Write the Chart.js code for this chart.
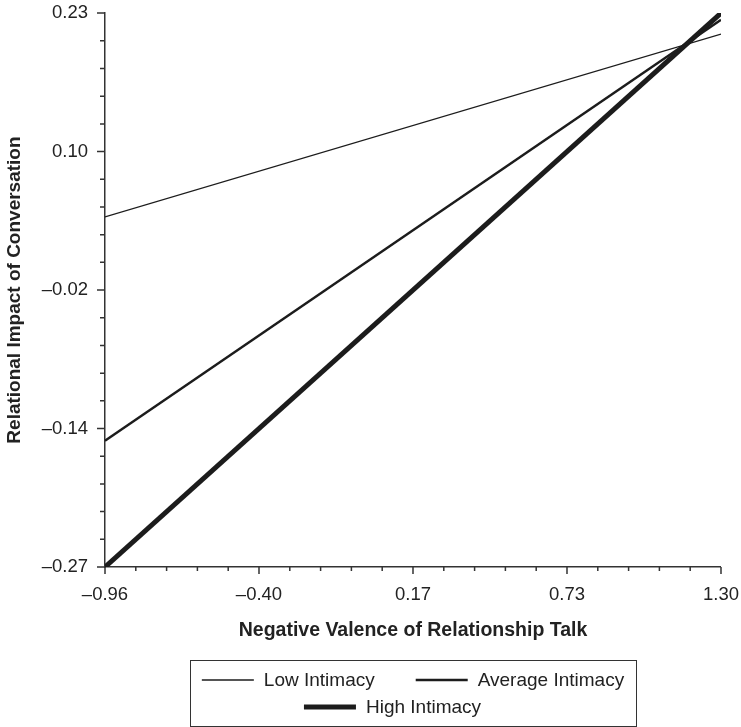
<!DOCTYPE html>
<html lang="en">
<head>
    <meta charset="UTF-8">
    <title>Relational Impact of Conversation</title>
    <script src="https://cdnjs.cloudflare.com/ajax/libs/Chart.js/4.4.1/chart.umd.min.js"></script>
    <style>
        html, body { margin: 0; padding: 0; background: #fff; }
        .container { width: 741px; height: 727px; }
    </style>
</head>
<body>
<div class="container">
    <canvas id="myChart"></canvas>
</div>
<script>
    // axis ranges and tick labels
    var xMin = -0.96, xMax = 1.30;
    var yMin = -0.27, yMax = 0.23;
    var xTickLabels = ['\u20130.96', '\u20130.40', '0.17', '0.73', '1.30'];
    var yTickLabels = ['\u20130.27', '\u20130.14', '\u20130.02', '0.10', '0.23'];

    // series (value at x = -0.96 and x = 1.30)
    var xPoints = [-0.96, 1.30];
    var seriesNames = ['Low Intimacy', 'Average Intimacy', 'High Intimacy'];
    var lowIntimacy = [0.046, 0.211];
    var averageIntimacy = [-0.156, 0.224];
    var highIntimacy = [-0.27, 0.23];

    var FONT = "'Liberation Sans', Arial, Helvetica, sans-serif";
    var INK = '#1c1c1c';

    function toPoints(ys) {
        return xPoints.map(function (x, i) { return {x: x, y: ys[i]}; });
    }

    // 4 major intervals, 5 minor steps in each
    function buildTicks(scale, min, max) {
        var ticks = [];
        var step = (max - min) / 20;
        for (var i = 0; i <= 20; i++) {
            ticks.push({value: min + i * step, major: i % 5 === 0});
        }
        scale.ticks = ticks;
    }

    function tickLabel(labels) {
        return function (value, index) {
            return index % 5 === 0 ? labels[index / 5] : '';
        };
    }

    // short minor / longer major tick marks outside the plot
    var tickMarks = {
        id: 'tickMarks',
        afterDraw: function (chart) {
            var ctx = chart.ctx;
            var xs = chart.scales.x, ys = chart.scales.y;
            var area = chart.chartArea;
            ctx.save();
            ctx.strokeStyle = '#333';
            ctx.lineWidth = 1.5;
            ctx.beginPath();
            xs.ticks.forEach(function (t) {
                var px = xs.getPixelForValue(t.value);
                ctx.moveTo(px, area.bottom);
                ctx.lineTo(px, area.bottom + (t.major ? 7 : 4));
            });
            ys.ticks.forEach(function (t) {
                var py = ys.getPixelForValue(t.value);
                ctx.moveTo(area.left, py);
                ctx.lineTo(area.left - (t.major ? 8 : 5), py);
            });
            ctx.stroke();
            ctx.restore();
        }
    };

    // boxed legend below the x axis title
    var boxLegend = {
        id: 'boxLegend',
        afterDraw: function (chart) {
            var ctx = chart.ctx;
            var area = chart.chartArea;
            var cx = (area.left + area.right) / 2;
            var top = chart.scales.x.bottom + 13;
            var boxW = 446, boxH = 66;
            var lineLen = 52, gap = 41, rowH = 27, maxRow = 430;
            ctx.save();
            ctx.font = '19px ' + FONT;
            ctx.textBaseline = 'middle';
            var items = chart.data.datasets.map(function (ds) {
                return {ds: ds, w: lineLen + 10 + ctx.measureText(ds.label).width};
            });
            var rows = [[]], widths = [0];
            items.forEach(function (it) {
                var r = rows.length - 1;
                var add = (rows[r].length ? gap : 0) + it.w;
                if (rows[r].length && widths[r] + add > maxRow) {
                    rows.push([it]);
                    widths.push(it.w);
                } else {
                    rows[r].push(it);
                    widths[r] += add;
                }
            });
            ctx.strokeStyle = '#333';
            ctx.lineWidth = 1;
            ctx.strokeRect(Math.round(cx - boxW / 2) + 0.5, Math.round(top) + 0.5, boxW, boxH);
            rows.forEach(function (row, r) {
                var w = widths[r] + (r > 0 ? gap : 0);
                var x = cx - w / 2;
                var y = top + 20 + r * rowH;
                row.forEach(function (it) {
                    ctx.strokeStyle = INK;
                    ctx.lineWidth = Math.max(it.ds.borderWidth, 1.4);
                    ctx.beginPath();
                    ctx.moveTo(x, y);
                    ctx.lineTo(x + lineLen, y);
                    ctx.stroke();
                    ctx.fillStyle = '#222';
                    ctx.fillText(it.ds.label, x + lineLen + 10, y + 1);
                    x += it.w + gap;
                });
            });
            ctx.restore();
        }
    };

    // invisible tick marks used only to push labels away from the axis
    var hiddenTicks = {display: true, drawOnChartArea: false, drawTicks: true, tickLength: 15, tickColor: 'rgba(0,0,0,0)'};

    var ctx = document.querySelector('#myChart').getContext('2d');
    new Chart(ctx, {
        type: 'line',
        data: {
            datasets: [{
                label: seriesNames[0],
                data: toPoints(lowIntimacy),
                borderColor: INK,
                borderWidth: 1.3
            }, {
                label: seriesNames[1],
                data: toPoints(averageIntimacy),
                borderColor: INK,
                borderWidth: 2.3
            }, {
                label: seriesNames[2],
                data: toPoints(highIntimacy),
                borderColor: INK,
                borderWidth: 5
            }]
        },
        options: {
            responsive: true,
            maintainAspectRatio: false,
            animation: false,
            elements: {
                point: {radius: 0},
                line: {tension: 0, borderCapStyle: 'butt'}
            },
            layout: {padding: {top: 1, right: 0, bottom: 80, left: 0}},
            plugins: {
                legend: {display: false},
                tooltip: {enabled: false}
            },
            scales: {
                x: {
                    type: 'linear',
                    min: xMin,
                    max: xMax,
                    afterBuildTicks: function (scale) { buildTicks(scale, xMin, xMax); },
                    afterFit: function (scale) { scale.height = 80; },
                    grid: hiddenTicks,
                    border: {display: true, color: '#333', width: 1.5},
                    ticks: {
                        autoSkip: false,
                        maxRotation: 0,
                        padding: 2,
                        color: '#222',
                        font: {family: FONT, size: 18.5},
                        callback: tickLabel(xTickLabels)
                    },
                    title: {
                        display: true,
                        text: 'Negative Valence of Relationship Talk',
                        color: '#222',
                        font: {family: FONT, size: 19.5, weight: 'bold'},
                        padding: {top: 0, bottom: 5}
                    }
                },
                y: {
                    type: 'linear',
                    min: yMin,
                    max: yMax,
                    afterBuildTicks: function (scale) { buildTicks(scale, yMin, yMax); },
                    afterFit: function (scale) { scale.width = 105; },
                    grid: hiddenTicks,
                    border: {display: true, color: '#333', width: 1.5},
                    ticks: {
                        autoSkip: false,
                        padding: 2,
                        color: '#222',
                        font: {family: FONT, size: 18.5},
                        callback: tickLabel(yTickLabels)
                    },
                    title: {
                        display: true,
                        text: 'Relational Impact of Conversation',
                        color: '#222',
                        font: {family: FONT, size: 19, weight: 'bold'},
                        padding: {top: 3, bottom: 0}
                    }
                }
            }
        },
        plugins: [tickMarks, boxLegend]
    });
</script>
</body>
</html>
